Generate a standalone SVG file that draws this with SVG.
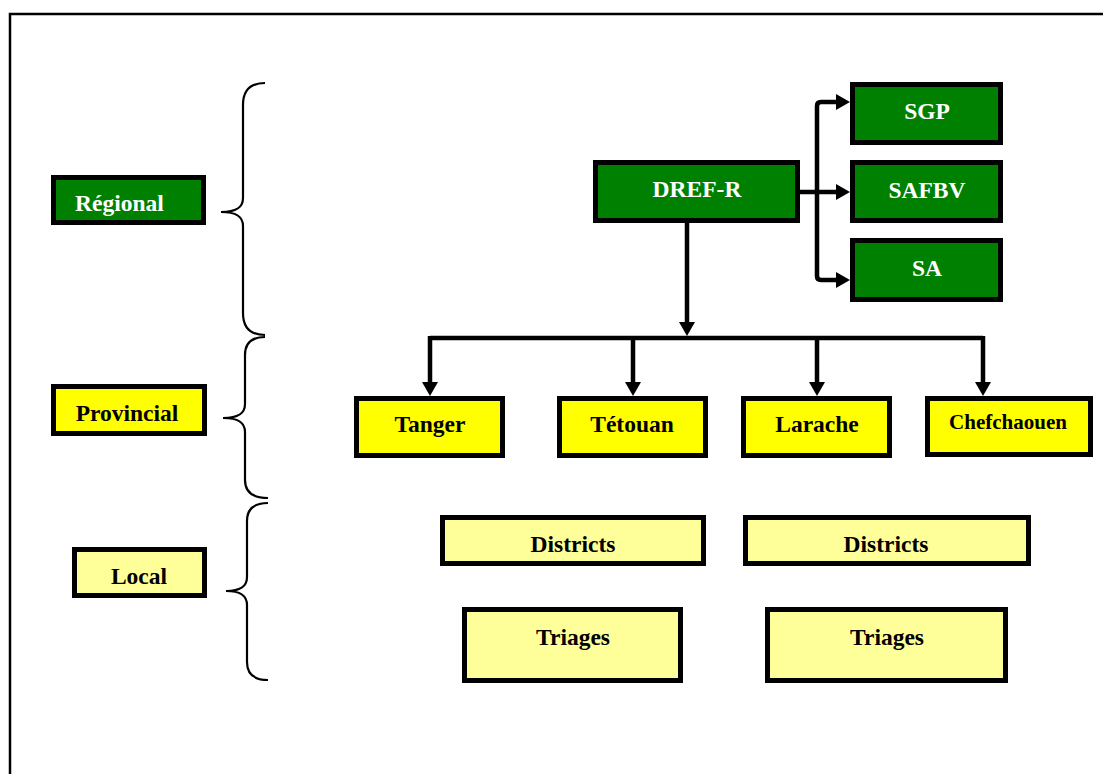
<svg xmlns="http://www.w3.org/2000/svg" width="1103" height="774" viewBox="0 0 1103 774">
<style>
.box{stroke:#000;stroke-width:5}
.g{fill:#008000}
.y{fill:#ffff00}
.ly{fill:#ffff99}
.t{font-family:"Liberation Serif","Times New Roman",serif;font-weight:bold;font-size:23.5px;text-anchor:middle}
.w{fill:#fff}
.k{fill:#000}
.c{fill:none;stroke:#000;stroke-width:4.5}
.br{fill:none;stroke:#000;stroke-width:2.2}
</style>
<defs>
<marker id="ah" markerUnits="userSpaceOnUse" viewBox="0 0 14 16" markerWidth="14" markerHeight="16" refX="0" refY="8" orient="auto">
<path d="M0,0 L14,8 L0,16 Z" fill="#000"/>
</marker>
</defs>
<rect x="10" y="14" width="1110" height="800" fill="#fff" stroke="#000" stroke-width="2.5"/>

<g id="braces">
<path class="br" d="M265,83 C250,83 243,90 243,105 L243,198 C243,208 236,212 221,212 C236,212 243,216 243,226 L243,313 C243,328 250,335 265,335"/>
<path class="br" d="M265,337 C252,337 245,343 245,355 L245,404 C245,414 238,418 223,418 C238,418 245,422 245,432 L245,480 C245,492 252,498 268,498"/>
<path class="br" d="M268,503 C254,503 247,509 247,521 L247,577 C247,587 240,591 226,591 C240,591 247,595 247,605 L247,662 C247,674 254,680 268,680"/>
</g>

<g id="connectors">
<path class="c" d="M687,223 V322" marker-end="url(#ah)"/>
<path class="c" d="M430,338 H983"/>
<path class="c" d="M430,336 V382" marker-end="url(#ah)"/>
<path class="c" d="M633,338 V382" marker-end="url(#ah)"/>
<path class="c" d="M817,338 V382" marker-end="url(#ah)"/>
<path class="c" d="M983,336 V382" marker-end="url(#ah)"/>
<path class="c" d="M800,192 H836" marker-end="url(#ah)"/>
<path class="c" d="M817,192 V106 Q817,102 821,102 H836" marker-end="url(#ah)"/>
<path class="c" d="M817,192 V276 Q817,280 821,280 H836" marker-end="url(#ah)"/>
</g>

<g id="regional"><rect class="box g" x="53.5" y="177.5" width="150" height="45"/><text class="t w" x="75" y="211" style="text-anchor:start">Régional</text></g>
<g id="provincial"><rect class="box y" x="53.5" y="386.5" width="151" height="47"/><text class="t k" x="127" y="421">Provincial</text></g>
<g id="local"><rect class="box ly" x="74.5" y="549.5" width="130" height="46"/><text class="t k" x="139" y="584">Local</text></g>

<g id="dref"><rect class="box g" x="595.5" y="162.5" width="202" height="58"/><text class="t w" x="697" y="197">DREF-R</text></g>
<g id="sgp"><rect class="box g" x="852.5" y="84.5" width="148" height="58"/><text class="t w" x="927" y="119">SGP</text></g>
<g id="safbv"><rect class="box g" x="852.5" y="162.5" width="148" height="58"/><text class="t w" x="927" y="198">SAFBV</text></g>
<g id="sa"><rect class="box g" x="852.5" y="240.5" width="148" height="59"/><text class="t w" x="927" y="276">SA</text></g>

<g id="tanger"><rect class="box y" x="356.5" y="398.5" width="146" height="57"/><text class="t k" x="430" y="432">Tanger</text></g>
<g id="tetouan"><rect class="box y" x="559.5" y="398.5" width="146" height="57"/><text class="t k" x="632" y="432">Tétouan</text></g>
<g id="larache"><rect class="box y" x="743.5" y="398.5" width="146" height="57"/><text class="t k" x="817" y="432">Larache</text></g>
<g id="chefchaouen"><rect class="box y" x="927.5" y="398.5" width="163" height="56"/><text class="t k" x="1008" y="429" style="font-size:21px">Chefchaouen</text></g>

<g id="districts1"><rect class="box ly" x="442.5" y="517.5" width="261" height="46"/><text class="t k" x="573" y="552">Districts</text></g>
<g id="districts2"><rect class="box ly" x="745.5" y="517.5" width="283" height="46"/><text class="t k" x="886" y="552">Districts</text></g>
<g id="triages1"><rect class="box ly" x="464.5" y="609.5" width="216" height="71"/><text class="t k" x="573" y="645">Triages</text></g>
<g id="triages2"><rect class="box ly" x="767.5" y="609.5" width="238" height="71"/><text class="t k" x="887" y="645">Triages</text></g>
</svg>
